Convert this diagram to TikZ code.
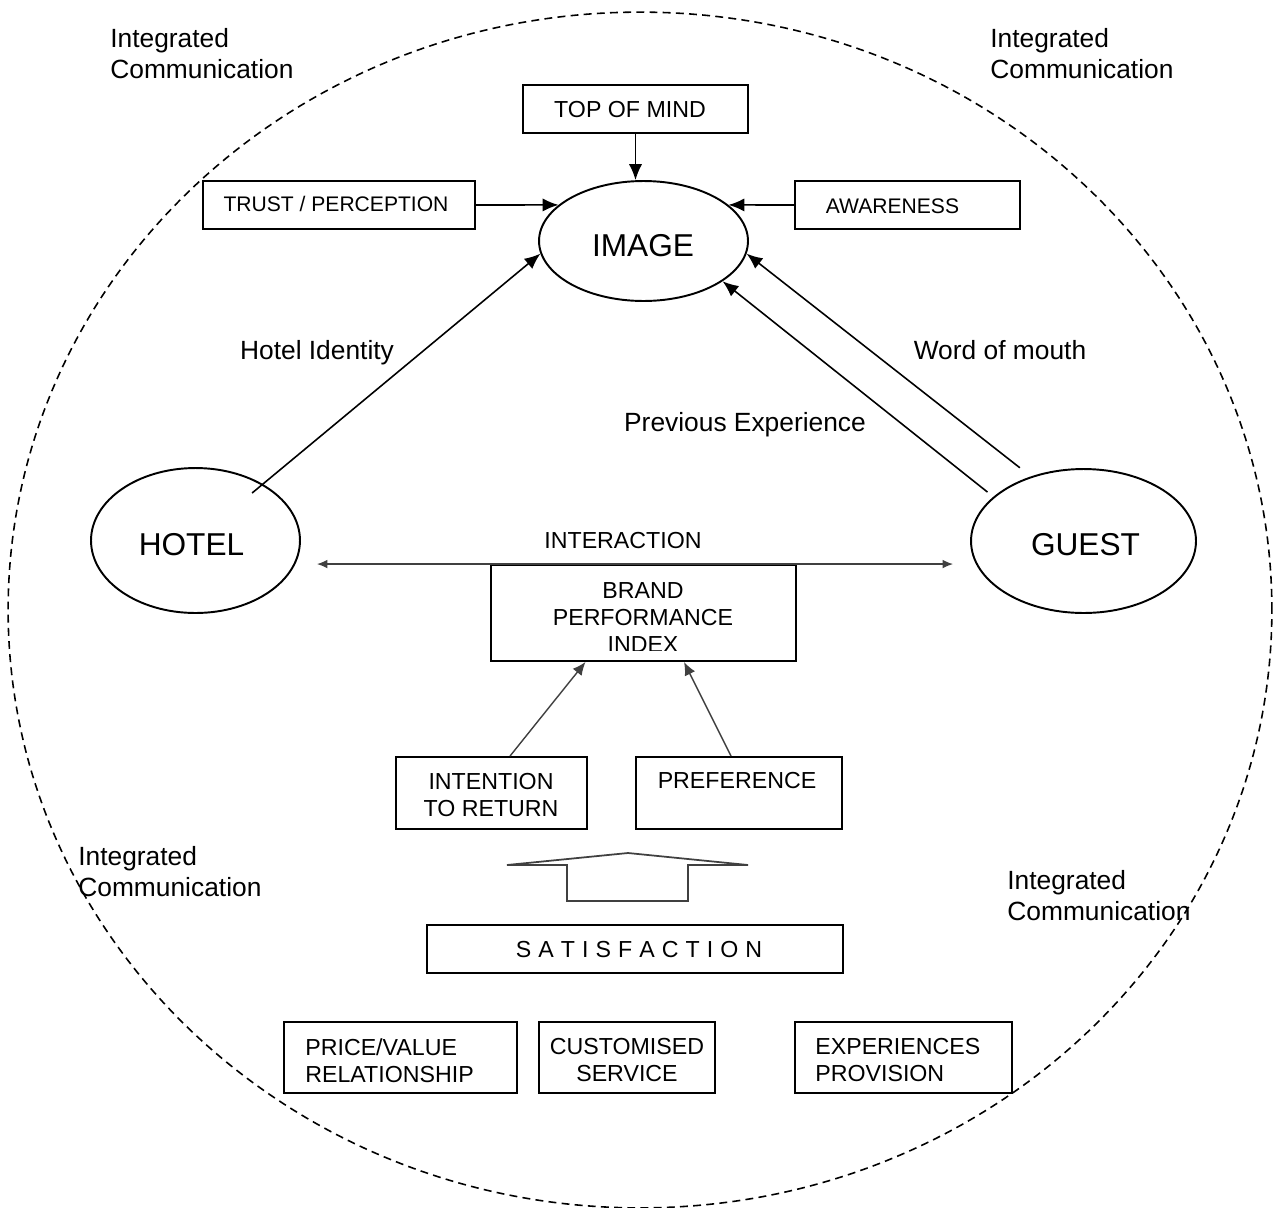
\documentclass[tikz,border=0pt]{standalone}
\usepackage{fontspec}
\setmainfont{Liberation Sans}
\usetikzlibrary{arrows.meta,calc,shapes.geometric}
\newcommand\lblfont{\fontsize{15pt}{17.6pt}\selectfont}
\newcommand\boxfont{\fontsize{13.2pt}{15.6pt}\selectfont}
\newcommand\smallboxfont{\fontsize{12pt}{14pt}\selectfont}
\newcommand\ellfont{\fontsize{18pt}{21pt}\selectfont}
\newcommand\satgap{\hspace{4pt}}
\definecolor{gline}{HTML}{404040}
\begin{document}
\begin{tikzpicture}[x=0.02cm,y=-0.02cm,
  boxnode/.style={draw,line width=1.1pt,inner sep=0pt},
  ellnode/.style={draw,ellipse,line width=1.1pt,inner sep=0pt},
  txt/.style={inner sep=0pt,font=\boxfont,align=center},
  lbl/.style={inner sep=0pt,font=\lblfont,align=left},
  arr/.style={line width=0.9pt,-{Latex[length=9pt,width=7.5pt]}},
  garr/.style={line width=0.8pt,color=gline,-{Latex[length=7.5pt,width=6.5pt]}},
  iarr/.style={line width=0.8pt,color=gline,{Latex[length=6pt,width=5pt]}-{Latex[length=6pt,width=5pt]}},
  dashcirc/.style={line width=0.9pt,dash pattern=on 4.5pt off 3pt}]
\useasboundingbox (0,0) rectangle (1273,1207);
% dashed boundary
\draw[dashcirc] (640,610) ellipse [x radius=12.64cm, y radius=11.96cm];
% corner labels
\node[lbl,anchor=north west] (ic1) at (110,28.5) {Integrated\\Communication};
\node[lbl,anchor=north west] (ic2) at (990,28.5) {Integrated\\Communication};
\node[lbl,anchor=north west] (ic3) at (78,846) {Integrated\\Communication};
\node[lbl,anchor=north west] (ic4) at (1007,870) {Integrated\\Communication};
% ellipses
\node[ellnode,minimum width=4.18cm,minimum height=2.4cm] (image) at (643.5,241) {};
\node[txt,font=\ellfont] (imaget) at (643,246) {IMAGE};
\node[ellnode,minimum width=4.18cm,minimum height=2.9cm] (hotel) at (195.5,540.5) {};
\node[txt,font=\ellfont] (hotelt) at (191.5,545) {HOTEL};
\node[ellnode,minimum width=4.5cm,minimum height=2.88cm] (guest) at (1083.5,541) {};
\node[txt,font=\ellfont] (guestt) at (1085.5,545) {GUEST};
% top boxes
\node[boxnode,minimum width=4.5cm,minimum height=0.96cm] (top) at (635.5,109) {};
\node[txt] (topt) at (630,109.5) {TOP OF MIND};
\node[boxnode,minimum width=5.44cm,minimum height=0.96cm] (trust) at (339,205) {};
\node[txt,font=\smallboxfont] (trustt) at (336,203.5) {TRUST / PERCEPTION};
\node[boxnode,minimum width=4.5cm,minimum height=0.96cm] (aware) at (907.5,205) {};
\node[txt,font=\smallboxfont] (awaret) at (892.5,206) {AWARENESS};
% arrows into IMAGE
\draw[arr] (top.south) -- (top.south |- image.north);
\draw[arr] (trust.east) -- (image.157);
\draw[arr] (aware.west) -- (image.23);
\draw[arr] ($(hotel.center)!0.84!(hotel.40)$) -- (image.187);
\draw[arr] ($(guest.center)!1.08!(guest.153)$) -- (image.-27);
\draw[arr] ($(guest.center)!1.15!(guest.131)$) -- (image.-7);
% labels
\node[lbl,anchor=base] (hid) at (317,359.5) {Hotel Identity};
\node[lbl,anchor=base] (wom) at (1000,359.5) {Word of mouth};
\node[lbl,anchor=base] (pex) at (745,431.5) {Previous Experience};
% brand performance index
\node[boxnode,minimum width=6.1cm,minimum height=1.92cm] (bpi) at (643.5,613) {};
\begin{scope}
\clip (492,566) rectangle (795,650.5);
\node[txt] (bpit) at (643,617.5) {BRAND\\PERFORMANCE\\INDEX};
\end{scope}
\node[txt,anchor=base] (inter) at (623,548) {INTERACTION};
\draw[iarr,shorten <=0.32cm,shorten >=0.34cm] (hotel.east |- bpi.north) -- (guest.west |- bpi.north);
% intention / preference
\node[boxnode,minimum width=3.82cm,minimum height=1.44cm] (intent) at (491.5,793) {};
\node[txt] (intentt) at (491,795) {INTENTION\\TO RETURN};
\node[boxnode,minimum width=4.12cm,minimum height=1.44cm] (pref) at (739,793) {};
\node[txt] (preft) at (737,781) {PREFERENCE};
\draw[garr] ($(intent.north)+(18.5,0)$) -- ($(bpi.south)+(-58,0)$);
\draw[garr] ($(pref.north)+(-8,0)$) -- ($(bpi.south)+(40.5,0)$);
% block arrow
\draw[line width=1pt,color=gline] (507,865) -- (628,853) -- (748,865) -- (688,865) -- (688,901) -- (567,901) -- (567,865) -- cycle;
% satisfaction
\node[boxnode,minimum width=8.32cm,minimum height=0.96cm] (sat) at (635,949) {};
\node[txt] (satt) at (639,949) {S\satgap A\satgap T\satgap I\satgap S\satgap F\satgap A\satgap C\satgap T\satgap I\satgap O\satgap N};
% bottom boxes
\node[boxnode,minimum width=4.66cm,minimum height=1.42cm] (price) at (400.5,1057.5) {};
\node[txt,align=left,anchor=north west] (pricet) at (305,1038) {PRICE/VALUE\\RELATIONSHIP};
\node[boxnode,minimum width=3.52cm,minimum height=1.42cm] (cust) at (627,1057.5) {};
\node[txt,anchor=north] (custt) at (627,1038) {CUSTOMISED\\SERVICE};
\node[boxnode,minimum width=4.34cm,minimum height=1.42cm] (exp) at (903.5,1057.5) {};
\node[txt,align=left,anchor=north west] (expt) at (815,1038) {EXPERIENCES\\PROVISION};
\end{tikzpicture}
\end{document}
